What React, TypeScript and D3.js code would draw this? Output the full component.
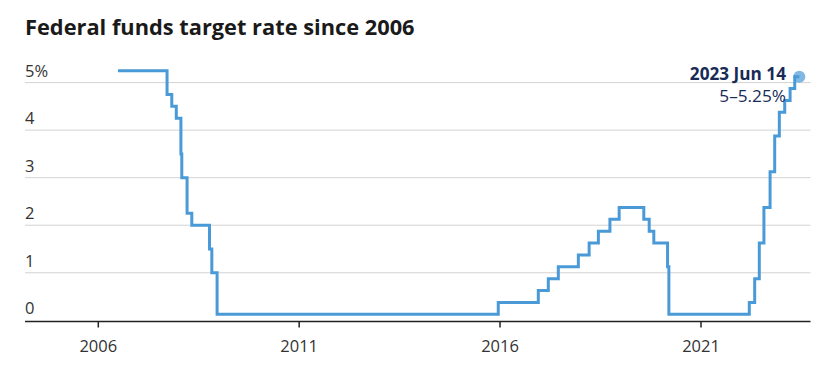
import React from "react";
import * as d3 from "d3";

const rateDates: string[] = [
  "2006-06-29", "2007-09-18", "2007-10-31", "2007-12-11", "2008-01-22", "2008-01-30",
  "2008-03-18", "2008-04-30", "2008-10-08", "2008-10-29", "2008-12-16",
  "2015-12-16", "2016-12-14", "2017-03-15", "2017-06-14", "2017-12-13",
  "2018-03-21", "2018-06-13", "2018-09-26", "2018-12-19",
  "2019-07-31", "2019-09-18", "2019-10-30", "2020-03-03", "2020-03-15",
  "2022-03-16", "2022-05-04", "2022-06-15", "2022-07-27", "2022-09-21",
  "2022-11-02", "2022-12-14", "2023-02-01", "2023-03-22", "2023-05-03", "2023-06-14",
];
const rateValues: number[] = [
  5.25, 4.75, 4.5, 4.25, 3.5, 3.0,
  2.25, 2.0, 1.5, 1.0, 0.125,
  0.375, 0.625, 0.875, 1.125, 1.375,
  1.625, 1.875, 2.125, 2.375,
  2.125, 1.875, 1.625, 1.125, 0.125,
  0.375, 0.875, 1.625, 2.375, 3.125,
  3.875, 4.375, 4.625, 4.875, 5.125, 5.125,
];
const yTicks: number[] = [0, 1, 2, 3, 4, 5];
const xTickYears: number[] = [2006, 2011, 2016, 2021];
const titleText = "Federal funds target rate since 2006";
const annotationDate = "2023 Jun 14";
const annotationValue = "5\u20135.25%";

export default function App() {
  const parse = d3.timeParse("%Y-%m-%d");
  const data = rateDates.map((d, i) => ({ date: parse(d) as Date, value: rateValues[i] }));

  const x = d3
    .scaleTime()
    .domain([new Date(2006, 0, 1), new Date(2021, 0, 1)])
    .range([98.3, 701]);
  const y = d3.scaleLinear().domain([0, 5]).range([320.3, 82.6]);

  const left = 25;
  const right = 810.5;

  const line = d3
    .line<{ date: Date; value: number }>()
    .x((d) => x(d.date))
    .y((d) => y(d.value))
    .curve(d3.curveStepAfter);

  const last = data[data.length - 1];
  const lx = x(last.date);
  const ly = y(last.value);
  const font = "'Open Sans', 'DejaVu Sans', sans-serif";

  return (
    <svg
      width={828}
      height={367}
      style={{ position: "absolute", left: 0, top: 0, background: "#fff" }}
      fontFamily={font}
    >
      <text x={25} y={34.5} fontSize={21.8} fontWeight={700} fill="#1a1a1a">
        {titleText}
      </text>
      {yTicks.filter((t) => t > 0).map((t) => (
        <line key={"g" + t} x1={left} x2={right} y1={y(t)} y2={y(t)} stroke="#d3d3d3" strokeWidth={1} />
      ))}
      {yTicks.map((t) => (
        <text key={"yl" + t} x={left} y={y(t) - 6} fontSize={16.5} fill="#333">
          {t === 5 ? `${t}%` : `${t}`}
        </text>
      ))}
      <line x1={left} x2={right} y1={321.5} y2={321.5} stroke="#222" strokeWidth={1.5} />
      {xTickYears.map((yr) => {
        const xx = x(new Date(yr, 0, 1));
        return (
          <g key={"xt" + yr}>
            <line x1={xx} x2={xx} y1={321.5} y2={327.5} stroke="#222" strokeWidth={1.5} />
            <text x={xx} y={351.5} fontSize={16.5} fill="#333" textAnchor="middle">
              {yr}
            </text>
          </g>
        );
      })}
      <path d={line(data) ?? ""} fill="none" stroke="#4a9ad8" strokeWidth={3} strokeLinejoin="miter" />
      <circle cx={lx} cy={ly} r={6} fill="#4a9ad8" fillOpacity={0.7} />
      <text x={786} y={80} fontSize={17.2} fontWeight={700} fill="#172b57" textAnchor="end">
        {annotationDate}
      </text>
      <text x={786} y={101.5} fontSize={17.2} fill="#172b57" textAnchor="end">
        {annotationValue}
      </text>
    </svg>
  );
}
